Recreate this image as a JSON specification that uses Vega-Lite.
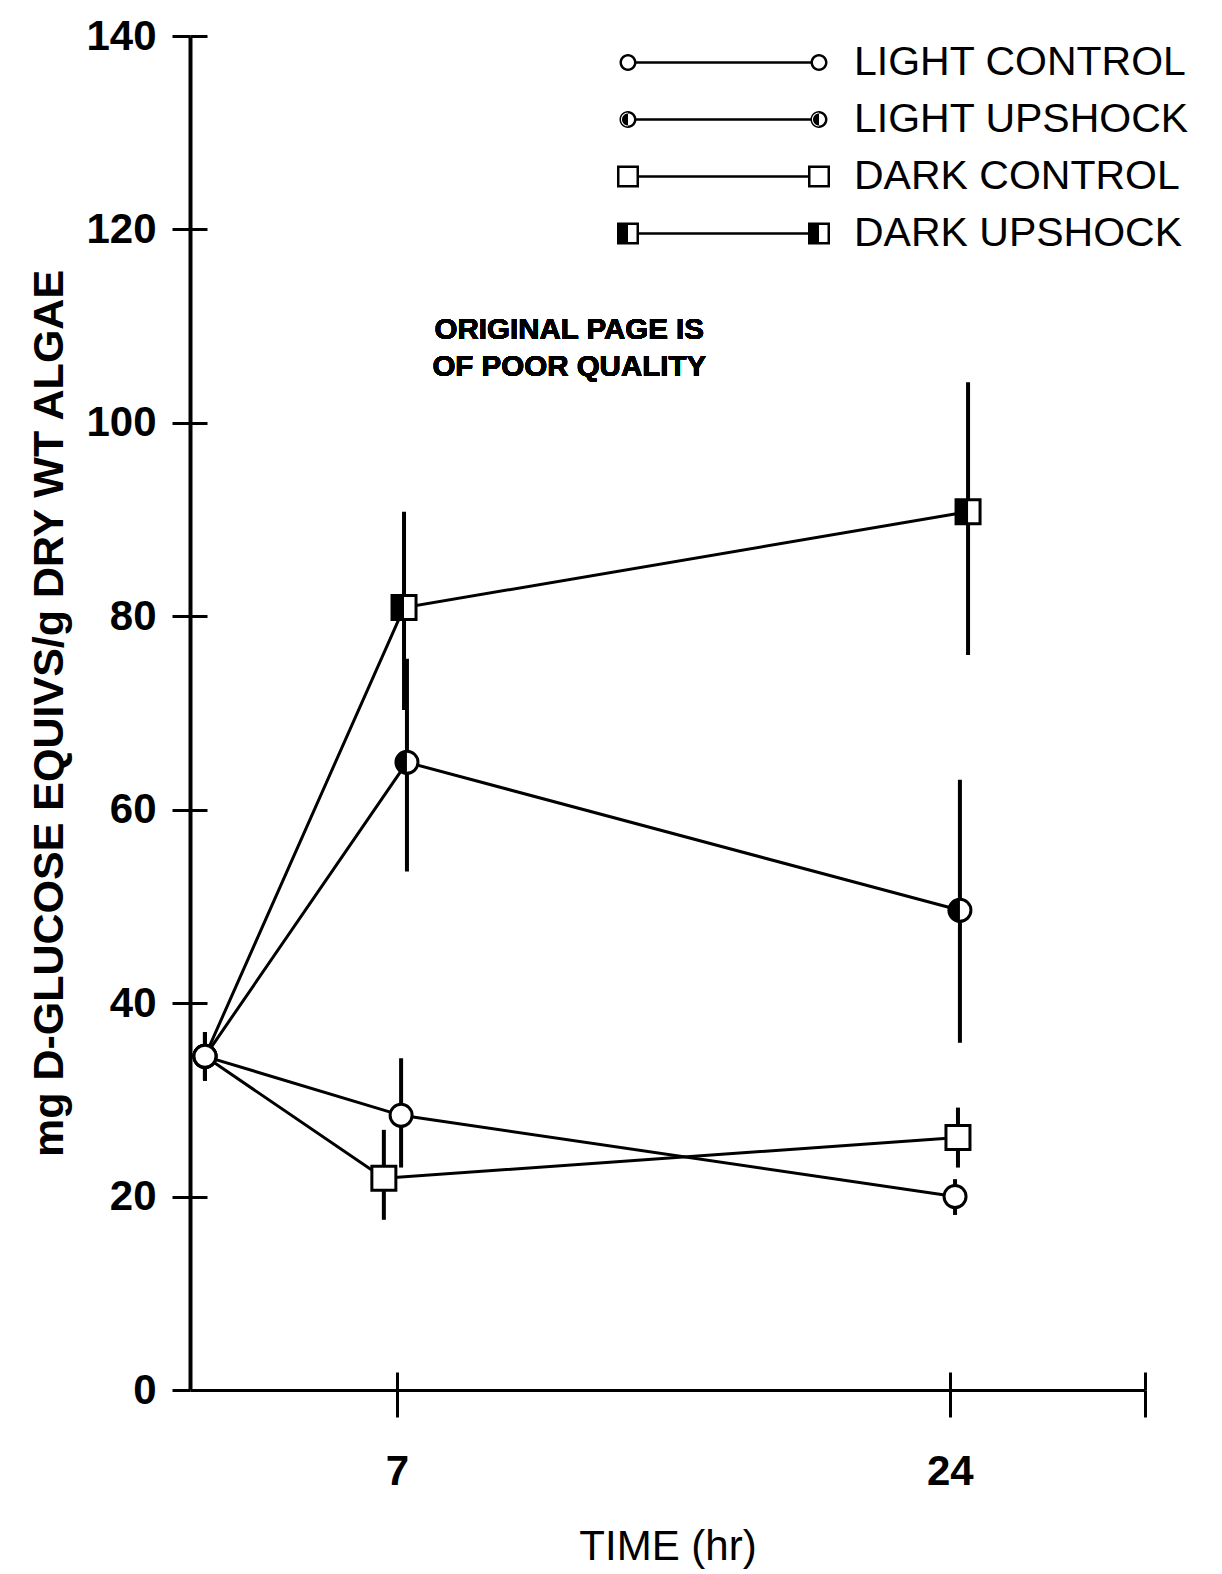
{
  "$schema": "https://vega.github.io/schema/vega-lite/v6.json",
  "width": 955,
  "height": 1354,
  "autosize": {"type": "none"},
  "padding": {"left": 190, "top": 36, "right": 77, "bottom": 184},
  "background": "white",
  "config": {"view": {"stroke": null}},
  "data": {"values": [
    {"series": "LIGHT CONTROL", "t": 1.1, "v": 34.5, "lo": 32.0, "hi": 37.0},
    {"series": "LIGHT CONTROL", "t": 7.13, "v": 28.4, "lo": 23.0, "hi": 34.3},
    {"series": "LIGHT CONTROL", "t": 24.16, "v": 20.0, "lo": 18.1, "hi": 21.8},
    {"series": "LIGHT UPSHOCK", "t": 1.1, "v": 34.5, "lo": 32.0, "hi": 37.0},
    {"series": "LIGHT UPSHOCK", "t": 7.31, "v": 64.9, "lo": 53.6, "hi": 75.6},
    {"series": "LIGHT UPSHOCK", "t": 24.31, "v": 49.6, "lo": 35.9, "hi": 63.1},
    {"series": "DARK CONTROL", "t": 1.1, "v": 34.5, "lo": 32.0, "hi": 37.0},
    {"series": "DARK CONTROL", "t": 6.6, "v": 21.9, "lo": 17.6, "hi": 26.9},
    {"series": "DARK CONTROL", "t": 24.25, "v": 26.1, "lo": 23.0, "hi": 29.2},
    {"series": "DARK UPSHOCK", "t": 1.1, "v": 34.5, "lo": 32.0, "hi": 37.0},
    {"series": "DARK UPSHOCK", "t": 7.22, "v": 80.9, "lo": 70.3, "hi": 90.8},
    {"series": "DARK UPSHOCK", "t": 24.56, "v": 90.8, "lo": 76.0, "hi": 104.2}
  ]},
  "resolve": {"axis": {"x": "independent", "y": "independent"}},
  "layer": [
    {
      "mark": {"type": "rule", "color": "black", "strokeWidth": 4},
      "encoding": {
        "x": {"field": "t", "type": "quantitative",
          "scale": {"domain": [0.64, 30], "nice": false, "zero": false},
          "axis": {"orient": "bottom", "values": [7, 24, 30], "labelExpr": "datum.value == 30 ? '' : datum.label",
            "grid": false, "tickSize": 27, "tickWidth": 3, "tickColor": "black", "domainWidth": 3, "domainColor": "black",
            "labelFont": "Liberation Sans", "labelFontSize": 42, "labelFontWeight": "bold", "labelColor": "black", "labelPadding": 34,
            "title": "TIME (hr)", "titleFont": "Liberation Sans", "titleFontSize": 42, "titleFontWeight": "normal", "titleColor": "black", "titlePadding": 34}},
        "y": {"field": "hi", "type": "quantitative",
          "scale": {"domain": [0, 140], "nice": false, "zero": true},
          "axis": {"orient": "left", "values": [0, 20, 40, 60, 80, 100, 120, 140], "grid": false,
            "tickSize": 18, "tickWidth": 3, "tickColor": "black", "domainWidth": 4, "domainColor": "black",
            "labelFont": "Liberation Sans", "labelFontSize": 42, "labelFontWeight": "bold", "labelColor": "black", "labelPadding": 16,
            "labelFlush": false, "labelOverlap": false,
            "title": "mg D-GLUCOSE EQUIVS/g DRY WT ALGAE", "titleFont": "Liberation Sans", "titleFontSize": 43, "titleFontWeight": "bold", "titleColor": "black", "titlePadding": 14}},
        "y2": {"field": "lo"}
      }
    },
    {
      "mark": {"type": "line", "color": "black", "strokeWidth": 3},
      "encoding": {
        "x": {"field": "t", "type": "quantitative",
          "axis": {"orient": "top", "offset": -1354, "values": [7, 24, 30], "labels": false, "domain": false, "grid": false,
            "tickSize": 18, "tickWidth": 3, "tickColor": "black", "title": null}},
        "y": {"field": "v", "type": "quantitative",
          "axis": {"orient": "right", "offset": -955, "values": [20, 40, 60, 80, 100, 120, 140], "labels": false, "domain": false, "grid": false,
            "tickSize": 17, "tickWidth": 3, "tickColor": "black", "title": null}},
        "detail": {"field": "series"},
        "order": {"field": "t"}
      }
    },
    {
      "transform": [{"filter": "datum.t < 2 || datum.series == 'LIGHT CONTROL' || datum.series == 'LIGHT UPSHOCK'"}],
      "mark": {"type": "point", "shape": "circle", "filled": false, "fill": "white", "fillOpacity": 1, "stroke": "black", "strokeWidth": 3, "size": 484, "opacity": 1},
      "encoding": {
        "x": {"field": "t", "type": "quantitative", "axis": null},
        "y": {"field": "v", "type": "quantitative", "axis": null}
      }
    },
    {
      "transform": [{"filter": "datum.t > 2 && (datum.series == 'DARK CONTROL' || datum.series == 'DARK UPSHOCK')"}],
      "mark": {"type": "point", "shape": "square", "filled": false, "fill": "white", "fillOpacity": 1, "stroke": "black", "strokeWidth": 3, "size": 576, "opacity": 1},
      "encoding": {
        "x": {"field": "t", "type": "quantitative", "axis": null},
        "y": {"field": "v", "type": "quantitative", "axis": null}
      }
    },
    {
      "transform": [{"filter": "datum.t > 2 && datum.series == 'LIGHT UPSHOCK'"}],
      "mark": {"type": "point", "shape": "M0,-1A1,1 0 0,0 0,1Z", "filled": true, "fill": "black", "strokeWidth": 0, "size": 484, "opacity": 1},
      "encoding": {
        "x": {"field": "t", "type": "quantitative", "axis": null},
        "y": {"field": "v", "type": "quantitative", "axis": null}
      }
    },
    {
      "transform": [{"filter": "datum.t > 2 && datum.series == 'DARK UPSHOCK'"}],
      "mark": {"type": "point", "shape": "M-1,-1L0,-1L0,1L-1,1Z", "filled": true, "fill": "black", "strokeWidth": 0, "size": 576, "opacity": 1},
      "encoding": {
        "x": {"field": "t", "type": "quantitative", "axis": null},
        "y": {"field": "v", "type": "quantitative", "axis": null}
      }
    },
    {
      "transform": [{"filter": "false"}],
      "mark": {"type": "point", "filled": true, "color": "black", "size": 400},
      "encoding": {
        "x": {"field": "t", "type": "quantitative", "axis": null},
        "y": {"field": "v", "type": "quantitative", "axis": null},
        "shape": {"field": "series", "type": "nominal",
          "scale": {
            "domain": ["LIGHT CONTROL", "LIGHT UPSHOCK", "DARK CONTROL", "DARK UPSHOCK"],
            "range": [
              "M-10.4,0A0.85,0.85 0 1,1 -8.7,0A0.85,0.85 0 1,1 -10.4,0Z M-10.15,0A0.6,0.6 0 1,0 -8.95,0A0.6,0.6 0 1,0 -10.15,0Z M8.7,0A0.85,0.85 0 1,1 10.4,0A0.85,0.85 0 1,1 8.7,0Z M8.95,0A0.6,0.6 0 1,0 10.15,0A0.6,0.6 0 1,0 8.95,0Z M-8.72,-0.13L8.72,-0.13L8.72,0.13L-8.72,0.13Z",
              "M-10.4,0A0.85,0.85 0 1,1 -8.7,0A0.85,0.85 0 1,1 -10.4,0Z M-10.15,0A0.6,0.6 0 1,0 -8.95,0A0.6,0.6 0 1,0 -10.15,0Z M8.7,0A0.85,0.85 0 1,1 10.4,0A0.85,0.85 0 1,1 8.7,0Z M8.95,0A0.6,0.6 0 1,0 10.15,0A0.6,0.6 0 1,0 8.95,0Z M-9.55,-0.7A0.7,0.7 0 0,0 -9.55,0.7Z M9.55,-0.7A0.7,0.7 0 0,0 9.55,0.7Z M-8.72,-0.13L8.72,-0.13L8.72,0.13L-8.72,0.13Z",
              "M-10.65,-1.1L-8.45,-1.1L-8.45,1.1L-10.65,1.1Z M-10.4,-0.85L-10.4,0.85L-8.7,0.85L-8.7,-0.85Z M8.45,-1.1L10.65,-1.1L10.65,1.1L8.45,1.1Z M8.7,-0.85L8.7,0.85L10.4,0.85L10.4,-0.85Z M-8.47,-0.13L8.47,-0.13L8.47,0.13L-8.47,0.13Z",
              "M-10.65,-1.1L-8.45,-1.1L-8.45,1.1L-10.65,1.1Z M-10.4,-0.85L-10.4,0.85L-8.7,0.85L-8.7,-0.85Z M8.45,-1.1L10.65,-1.1L10.65,1.1L8.45,1.1Z M8.7,-0.85L8.7,0.85L10.4,0.85L10.4,-0.85Z M-10.65,-1.1L-9.55,-1.1L-9.55,1.1L-10.65,1.1Z M8.45,-1.1L9.55,-1.1L9.55,1.1L8.45,1.1Z M-8.47,-0.13L8.47,-0.13L8.47,0.13L-8.47,0.13Z"
            ]
          },
          "legend": {
            "orient": "none", "legendX": 513, "legendY": 6, "title": null, "padding": 0,
            "symbolSize": 400, "symbolStrokeWidth": 0, "symbolFillColor": "black", "symbolOpacity": 1,
            "symbolOffset": 0, "labelOffset": 110, "rowPadding": 15, "labelLimit": 0,
            "labelFont": "Liberation Sans", "labelFontSize": 41, "labelColor": "black",
            "encode": {"symbols": {"update": {
              "fill": {"value": "black"}, "fillOpacity": {"value": 1}, "opacity": {"value": 1}, "strokeWidth": {"value": 0}}}}
          }
        }
      }
    },
    {
      "mark": {"type": "text", "text": ["ORIGINAL PAGE IS", "OF POOR QUALITY"], "align": "center", "baseline": "top",
        "font": "Liberation Sans", "fontSize": 29.5, "fontWeight": "bold", "lineHeight": 37, "color": "black"},
      "encoding": {
        "x": {"datum": 12.3, "type": "quantitative", "axis": null},
        "y": {"datum": 111.0, "type": "quantitative", "axis": null}
      }
    }
  ]
}
